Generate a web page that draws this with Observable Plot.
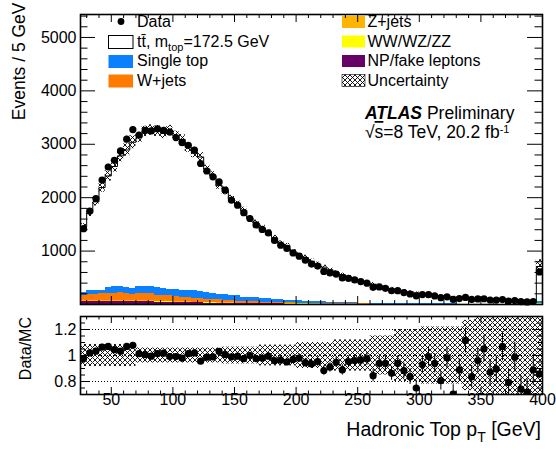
<!DOCTYPE html>
<html><head><meta charset="utf-8">
<script src="https://cdn.jsdelivr.net/npm/d3@7"></script>
<script src="https://cdn.jsdelivr.net/npm/@observablehq/plot@0.6"></script>
<style>
body{margin:0;background:#fff;}
#wrap{position:relative;width:556px;height:450px;font-family:"Liberation Sans",Arial,sans-serif;}
#wrap svg{position:absolute;left:0;}
</style></head><body>
<div id="wrap"></div>
<script>
// ---------- data (5 GeV bins, 25–400 GeV) ----------
const binLow = d3.range(25, 400, 5);
const dataCounts = [1420,1750,1985,2330,2575,2700,2875,3095,3275,3170,
  3260,3250,3290,3260,3230,3125,3030,2980,2890,2640,
  2500,2390,2295,2140,1955,1860,1720,1610,1490,1405,
  1340,1200,1110,1050,965,905,830,757,720,619,
  592,569,498,491,461,430,399,321,329,303,
  257,259,224,197,163,186,184,161,127,143,
  95,111,133,95,105,108,84,82,92,64,
  75,53,48,56,610];
const ratioValues = [0.976,1.02,1.033,1.064,1.07,1.045,1.033,1.07,1.078,1.014,
  1.006,0.995,1.014,1.018,0.992,0.992,0.98,1.014,1.02,0.956,
  0.987,0.99,1.031,1.006,0.99,0.995,0.976,1.0,0.976,0.98,
  0.995,0.96,0.965,0.95,0.97,0.98,0.945,0.935,0.953,0.884,
  0.91,0.948,0.889,0.953,0.961,0.966,0.974,0.845,0.94,0.94,
  0.863,0.94,0.884,0.837,0.75,0.93,0.992,0.94,0.806,0.982,
  0.703,0.889,1.116,0.837,0.961,1.052,0.871,0.897,1.07,0.793,
  0.987,0.742,0.716,0.889,0.858];
// relative half-width of the hatched band in the ratio panel
const ratioRelUncertainty = [0.085,0.085,0.085,0.085,0.085,0.085,0.085,0.085,0.085,
  0.058,0.058,0.058,0.058,0.058,0.058,0.058,0.058,0.058,0.058,0.058,0.058,0.058,0.058,
  0.065,0.065,0.065,0.065,0.065,0.065,
  0.08,0.08,0.08,0.08,0.08,0.08,
  0.1,0.1,0.1,0.1,0.1,0.1,
  0.12,0.12,0.12,0.12,0.12,0.12,
  0.15,0.15,0.15,0.15,
  0.2,0.2,0.2,0.2,
  0.22,0.22,0.22,0.22,0.22,0.22,0.22,
  0.27,0.27,
  0.35,0.35,0.35,0.35,0.35,0.35,0.35,0.35,0.35,0.35,0.35];
// relative half-width of the hatched band in the main panel
const mainRelUncertainty = [0.04,0.04,0.04,0.04,0.04,0.04,0.04,0.04,0.04,
  0.03,0.03,0.03,0.03,0.03,0.03,0.03,0.03,0.03,0.03,0.03,0.03,0.03,0.03,
  0.035,0.035,0.035,0.035,0.035,0.035,0.035,0.035,0.035,0.035,0.035,0.035,
  0.05,0.05,0.05,0.05,0.05,0.05,0.05,0.05,0.05,0.05,0.05,0.05,
  0.08,0.08,0.08,0.08,0.08,0.08,0.08,0.08,
  0.12,0.12,0.12,0.12,0.12,0.12,0.12,0.12,0.12,
  0.18,0.18,0.18,0.18,0.18,0.18,0.18,0.18,0.18,0.18,0.18];
const npFake = [50,52,52,54,55,54,55,52,48,52, 52,50,45,44,42,40,36,35,33,30,
  28,25,23,22,20,18,17,15,14,13, 12,11,10,9,9,8,8,7,7,6,
  6,5,5,5,4,4,4,3,3,3, 3,3,2,2,2,2,2,2,2,2, 2,1,1,1,1,1,1,1,1,1, 1,1,1,1,8];
const diboson = [4,5,5,5,5,5,6,5,5,5, 5,5,5,5,5,4,4,4,4,4, 4,4,3,3,3,3,3,3,3,2,
  2,2,2,2,2,2,2,2,2,1, 1,1,1,1,1,1,1,1,1,1, 1,1,1,1,1,1,1,1,1,1,
  1,1,0,0,0,0,0,0,0,0, 0,0,0,0,2];
const zJets = [14,15,15,16,16,15,17,16,15,16, 16,15,13,13,12,11,10,10,9,8,
  8,7,7,6,6,5,5,5,4,4, 4,3,3,3,3,3,2,2,2,2, 2,2,2,2,1,1,1,1,1,1,
  1,1,1,1,1,1,1,1,1,1, 1,1,1,1,1,1,1,1,1,1, 1,1,1,1,3];
const wJets = [107,113,118,125,134,126,142,132,117,142, 142,135,112,108,101,95,85,81,74,68,
  60,54,52,49,46,39,35,32,29,26, 22,22,20,18,16,14,13,12,10,10,
  8,8,7,5,6,5,4,4,3,3, 2,1,1,1,1,1,1,1,1,1, 1,1,1,1,1,1,1,1,1,1, 1,1,1,1,12];
const singleTop = [50,70,70,65,110,130,120,115,115,115, 130,140,135,130,130,130,125,135,135,130,
  130,115,110,105,100,95,80,75,75,70, 65,57,55,48,45,41,37,35,31,29,
  27,24,21,20,18,17,15,14,13,11, 10,10,8,8,7,7,6,5,6,5,
  5,4,4,4,4,4,3,3,3,3, 2,2,2,2,35];

const processNames = ["NP/fake leptons","WW/WZ/ZZ","Z+jets","W+jets","Single top"];
const processColors = ["#670067","#ffff00","#ffb400","#ff7b00","#0a80ff"];
const processValues = [npFake, diboson, zJets, wJets, singleTop];

const xTickLabels = [50,100,150,200,250,300,350,400];
const yTickLabels = [1000,2000,3000,4000,5000];
const ratioTickLabels = [0.8,1,1.2];

// ---------- derived records ----------
const rows = binLow.map((lo, i) => ({
  lo, hi: lo + 5, c: lo + 2.5,
  data: dataCounts[i], ratio: ratioValues[i],
  mc: dataCounts[i] / ratioValues[i],
  uR: ratioRelUncertainty[i], uM: mainRelUncertainty[i],
  err: Math.sqrt(dataCounts[i])
}));
const stackRows = [];
processNames.forEach((p, k) => binLow.forEach((lo, i) =>
  stackRows.push({lo, hi: lo + 5, proc: p, v: processValues[k][i]})));
const stepPts = rows.map(r => ({x: r.lo, y: r.mc})).concat([{x: 400, y: rows[rows.length-1].mc}]);

// ---------- layout ----------
const W = 556, mL = 80, mR = 14, innerW = W - mL - mR;
const font = "'Liberation Sans', Arial, sans-serif";

function frameTicks(innerH, o) {
  const rx = (vals, len) => [
    Plot.ruleX(vals, {x: d => d, insetTop: innerH - len, stroke: "black", strokeWidth: 1}),
    Plot.ruleX(vals, {x: d => d, insetBottom: innerH - len, stroke: "black", strokeWidth: 1})];
  const ry = (vals, len) => [
    Plot.ruleY(vals, {y: d => d, insetRight: innerW - len, stroke: "black", strokeWidth: 1}),
    Plot.ruleY(vals, {y: d => d, insetLeft: innerW - len, stroke: "black", strokeWidth: 1})];
  return [...rx(o.xMaj, o.xMajLen), ...rx(o.xMin, o.xMinLen), ...ry(o.yMaj, o.yMajLen), ...ry(o.yMin, o.yMinLen)];
}
const xMinor = d3.range(30, 400, 10).filter(v => v % 50 !== 0);

// ---------- main panel ----------
const mainH = 310, mainTop = 14, mainBottom = 6;
const main = Plot.plot({
  width: W, height: mainH,
  marginLeft: mL, marginRight: mR, marginTop: mainTop, marginBottom: mainBottom,
  style: {fontFamily: font, fontSize: "16px", background: "none", color: "black", overflow: "visible"},
  x: {domain: [25, 400], axis: null},
  y: {domain: [0, 5430], axis: null},
  color: {domain: processNames, range: processColors},
  marks: [
    Plot.rectY(stackRows, {x1: "lo", x2: "hi", y: "v", fill: "proc", order: processNames, shapeRendering: "crispEdges"}),
    Plot.line(stepPts, {x: "x", y: "y", curve: "step-after", stroke: "black", strokeWidth: 1}),
    Plot.rectY(rows, {x1: "lo", x2: "hi", y1: r => r.mc * (1 - r.uM), y2: r => r.mc * (1 + r.uM), fill: "url(#hatch)"}),
    Plot.ruleX(rows, {x: "c", y1: r => r.data - r.err, y2: r => r.data + r.err, stroke: "black", strokeWidth: 1}),
    Plot.dot(rows, {x: "c", y: "data", r: 3.6, fill: "black"}),
    Plot.frame({stroke: "black", strokeWidth: 1.6}),
    ...frameTicks(mainH - mainTop - mainBottom, {
      xMaj: xTickLabels, xMajLen: 8, xMin: xMinor, xMinLen: 4,
      yMaj: yTickLabels, yMajLen: 15, yMin: d3.range(200, 5430, 200).filter(v => v % 1000 !== 0), yMinLen: 7.5}),
    Plot.text(yTickLabels, {y: d => d, text: d => String(d), frameAnchor: "left", textAnchor: "end", dx: -4, fontSize: 16})
  ]
});
main.style.top = "0px";

// ---------- ratio panel ----------
const ratioH = 140, rTop = 6, rBottom = 56;
const ratio = Plot.plot({
  width: W, height: ratioH,
  marginLeft: mL, marginRight: mR, marginTop: rTop, marginBottom: rBottom,
  style: {fontFamily: font, fontSize: "16px", background: "none", color: "black", overflow: "visible"},
  x: {domain: [25, 400], axis: null},
  y: {domain: [0.7, 1.3], axis: null, clamp: true},
  marks: [
    Plot.ruleY(ratioTickLabels, {y: d => d, stroke: "black", strokeWidth: 1, strokeDasharray: "1,2"}),
    Plot.rectY(rows, {x1: "lo", x2: "hi", y1: r => 1 - r.uR, y2: r => 1 + r.uR, fill: "url(#hatch)", clip: true}),
    Plot.ruleX(rows, {x: "c", y1: r => r.ratio - r.err / r.mc, y2: r => r.ratio + r.err / r.mc, stroke: "black", strokeWidth: 1, clip: true}),
    Plot.dot(rows, {x: "c", y: "ratio", r: 3.6, fill: "black", clip: true}),
    Plot.frame({stroke: "black", strokeWidth: 1.6}),
    ...frameTicks(ratioH - rTop - rBottom, {
      xMaj: xTickLabels, xMajLen: 7, xMin: xMinor, xMinLen: 3.5,
      yMaj: ratioTickLabels, yMajLen: 10, yMin: [0.75,0.85,0.9,0.95,1.05,1.1,1.15,1.25], yMinLen: 5}),
    Plot.text(ratioTickLabels, {y: d => d, text: d => String(d), frameAnchor: "left", textAnchor: "end", dx: -4, fontSize: 16}),
    Plot.text(xTickLabels, {x: d => d, text: d => String(d), frameAnchor: "bottom", dy: 10, fontSize: 16})
  ]
});
ratio.style.top = mainH + "px";

// ---------- overlay: legend, labels ----------
const legendLeft = [
  {kind: "dot", label: "Data"},
  {kind: "tt", label: "tt\u0304, m<tspan font-size='11' dy='4'>top</tspan><tspan dy='-4'>=172.5 GeV</tspan>"},
  {kind: "box", label: "Single top", color: processColors[4]},
  {kind: "box", label: "W+jets", color: processColors[3]}
];
const legendRight = [
  {label: "Z+jets", color: processColors[2]},
  {label: "WW/WZ/ZZ", color: processColors[1]},
  {label: "NP/fake leptons", color: processColors[0]},
  {label: "Uncertainty", color: "url(#hatch)"}
];
const baselines = [27, 46.5, 66, 85.5];
let ov = `<svg width="556" height="450" style="top:0;pointer-events:none" font-family="${font}">
<defs><pattern id="hatch" width="5" height="5" patternUnits="userSpaceOnUse">
<path d="M-1,-1L6,6M6,-1L-1,6" stroke="#000" stroke-width="0.9" fill="none"/></pattern></defs>`;
legendLeft.forEach((e, i) => {
  const b = baselines[i];
  if (e.kind === "dot") ov += `<circle cx="121" cy="${b - 5.5}" r="3.4" fill="#000"/>`;
  else if (e.kind === "tt") ov += `<rect x="108.5" y="${b - 11}" width="24.5" height="13" fill="#fff" stroke="#000" stroke-width="1"/>`;
  else ov += `<rect x="108.5" y="${b - 11}" width="24.5" height="13" fill="${e.color}"/>`;
  ov += `<text x="137" y="${b}" font-size="16">${e.label}</text>`;
});
legendRight.forEach((e, i) => {
  const b = baselines[i];
  ov += `<rect x="342" y="${b - 11}" width="23" height="12" fill="${e.color}" ${e.color.startsWith("url") ? "stroke='#000' stroke-width='0.6'" : ""}/>`;
  ov += `<text x="367.5" y="${b}" font-size="16">${e.label}</text>`;
});
ov += `<text x="365" y="118.5" font-size="17.5"><tspan font-weight="bold" font-style="italic">ATLAS</tspan> Preliminary</text>
<text x="365" y="138" font-size="17.5">√<tspan text-decoration="overline">s</tspan>=8 TeV, 20.2 fb<tspan font-size="11" dy="-5">-1</tspan></text>
<text transform="translate(25,2.5) rotate(-90)" text-anchor="end" font-size="17.5">Events / 5 GeV</text>
<text transform="translate(30.5,317) rotate(-90)" text-anchor="end" font-size="16">Data/MC</text>
<text x="541" y="436" text-anchor="end" font-size="19.5">Hadronic Top p<tspan font-size="14" dy="6">T</tspan><tspan dy="-6"> [GeV]</tspan></text>
</svg>`;

const wrap = document.getElementById("wrap");
wrap.insertAdjacentHTML("beforeend", ov);
wrap.appendChild(main);
wrap.appendChild(ratio);
</script>
</body></html>
